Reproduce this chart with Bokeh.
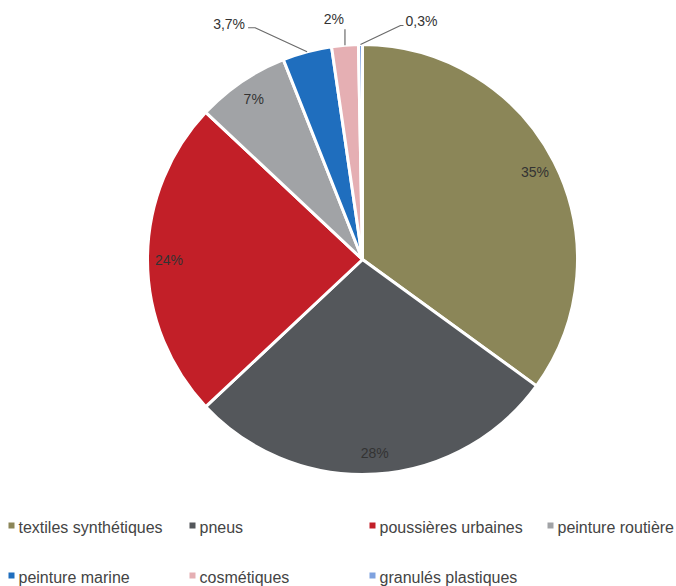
import math
from bokeh.plotting import figure
from bokeh.models import Range1d, ColumnDataSource
from bokeh.core.properties import value
from bokeh.embed import file_html
from bokeh.resources import INLINE

# ---- data ----
categories = ["textiles synthétiques", "pneus", "poussières urbaines", "peinture routière",
              "peinture marine", "cosmétiques", "granulés plastiques"]
shares = [35, 28, 24, 7, 3.7, 2, 0.3]
labels = ["35%", "28%", "24%", "7%", "3,7%", "2%", "0,3%"]
colors = ["#8B8658", "#54575B", "#C21F28", "#A1A3A6", "#1F6EBE", "#E5AFB3", "#7FA2DF"]

# ---- layout (page pixels) ----
W, H = 676, 586
CX, CY, R = 362, 259, 215
FONT = "Liberation Sans"

def py(y):  # page y -> data y
    return H - y

p = figure(width=W, height=H, output_backend="svg", toolbar_location=None,
           x_range=Range1d(0, W), y_range=Range1d(0, H),
           min_border=0, border_fill_color="white", background_fill_color="white")
p.axis.visible = False
p.grid.visible = False
p.outline_line_color = None

total = sum(shares)
starts, ends, mids = [], [], []
cum = 0.0
for s in shares:
    a0 = math.pi / 2 - 2 * math.pi * cum / total
    cum += s
    a1 = math.pi / 2 - 2 * math.pi * cum / total
    starts.append(a0)
    ends.append(a1)
    mids.append((a0 + a1) / 2)

src = ColumnDataSource(dict(start=starts, end=ends, color=colors, cat=categories))
p.wedge(x=CX, y=py(CY), radius=R, start_angle="start", end_angle="end", direction="clock",
        fill_color="color", line_color="white", line_width=3, source=src)

# inside labels for the big slices
ix, iy, it = [], [], []
for i in range(4):
    rr = R * 0.9
    ix.append(CX + rr * math.cos(mids[i]))
    iy.append(py(CY) + rr * math.sin(mids[i]))
    it.append(labels[i])
p.text(x=ix, y=iy, text=it, text_font=value(FONT), text_font_size="14px",
       text_color="#333333", text_align="center", text_baseline="middle")

# outside labels with leader lines for the small slices
outside = {
    4: dict(elbow=(-52, 24), end=(-7, 0), txt=(-3, 4), align="right"),
    5: dict(elbow=(0, 16), end=(0, 0), txt=(-1, 10), align="right"),
    6: dict(elbow=(40, 19), end=(3, 0), txt=(2, 5), align="left"),
}
for i, o in outside.items():
    ex = CX + R * math.cos(mids[i])
    ey = py(CY) + R * math.sin(mids[i])
    bx, by = ex + o["elbow"][0], ey + o["elbow"][1]
    fx, fy = bx + o["end"][0], by + o["end"][1]
    p.line(x=[ex, bx, fx], y=[ey, by, fy], line_color="#6b6b6b", line_width=1.2)
    p.text(x=[fx + o["txt"][0]], y=[fy + o["txt"][1]], text=[labels[i]], text_font=value(FONT),
           text_font_size="14px", text_color="#333333", text_align=o["align"],
           text_baseline="middle")

# legend (two rows)
leg_x = [11, 192, 372, 550, 11, 192, 372]
leg_y = [525, 525, 525, 525, 575, 575, 575]
p.scatter(x=leg_x, y=[py(v) for v in leg_y], marker="square", size=6,
          fill_color=colors, line_color=None)
p.text(x=[v + 7 for v in leg_x], y=[py(v + 1.5) for v in leg_y], text=categories,
       text_font=value(FONT), text_font_size="16px", text_color="#444444",
       text_align="left", text_baseline="middle")

open("out.html", "w").write(file_html(p, INLINE))
